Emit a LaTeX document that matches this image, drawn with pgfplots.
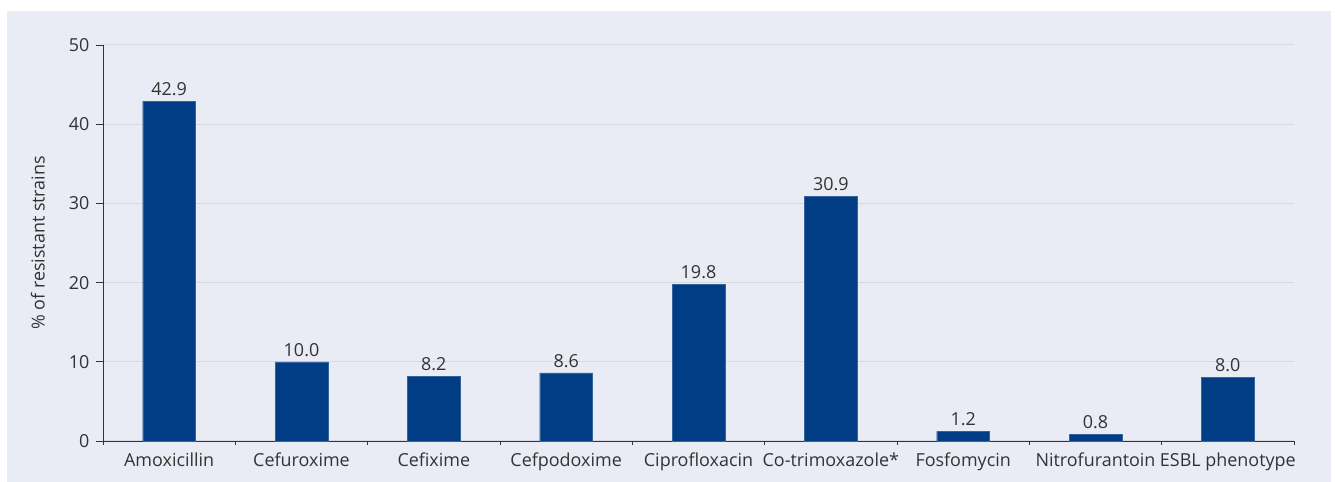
\documentclass[border=0pt]{standalone}
\usepackage{pgfplots}
\pgfplotsset{compat=1.18}
\usepackage{fontspec}
\setmainfont{Open Sans}
\definecolor{panel}{HTML}{E9ECF5}
\definecolor{barblue}{HTML}{003D85}
\definecolor{gridc}{HTML}{D8D9E0}
\definecolor{axisc}{HTML}{333333}
\begin{document}
\begin{tikzpicture}[x=1bp,y=1bp]
\path[use as bounding box] (-103,-41) rectangle (1232,441);
\fill[panel] (-96,-41) rectangle (1228,430);
\begin{axis}[
  at={(0,0)}, anchor=south west,
  scale only axis, width=1191bp, height=396bp,
  xmin=-0.5, xmax=8.5, ymin=0, ymax=50,
  axis x line*=bottom, axis y line*=left,
  axis line style={axisc, line width=0.8pt},
  ytick={0,10,...,50},
  ymajorgrids, grid style={gridc, line width=1pt},
  xtick={0,...,8},
  xticklabels={Amoxicillin,Cefuroxime,Cefixime,Cefpodoxime,Ciprofloxacin,Co-trimoxazole*,Fosfomycin,Nitrofurantoin,ESBL phenotype},
  major x tick style={draw=none},
  minor xtick={-0.5,0.5,...,8.5},
  minor x tick style={axisc, line width=0.8pt},
  minor tick length=4bp,
  major y tick style={axisc, line width=0.8pt},
  major tick length=7bp,
  tick align=outside,
  ticklabel style={font=\fontsize{18}{21}\selectfont, text=axisc},
  yticklabel style={xshift=-3bp},
  xticklabel style={yshift=-1bp},
  /pgf/number format/assume math mode=true,
  ylabel={\% of resistant strains},
  every axis y label/.style={at={(axis description cs:-0.0546,0.5)}, rotate=90, anchor=center,
    font=\fontsize{18}{21}\selectfont, text=axisc},
  nodes near coords,
  nodes near coords style={font=\fontsize{18}{21}\selectfont, text=axisc, yshift=2bp,
    /pgf/number format/fixed, /pgf/number format/fixed zerofill,
    /pgf/number format/precision=1, /pgf/number format/assume math mode=true},
  clip=false,
]
\addplot[ybar, bar width=0.4, fill=barblue, draw=barblue!80!white] coordinates {
  (0,42.9) (1,10.0) (2,8.2) (3,8.6) (4,19.8) (5,30.9) (6,1.2) (7,0.8) (8,8.0)
};
\end{axis}
\end{tikzpicture}
\end{document}
